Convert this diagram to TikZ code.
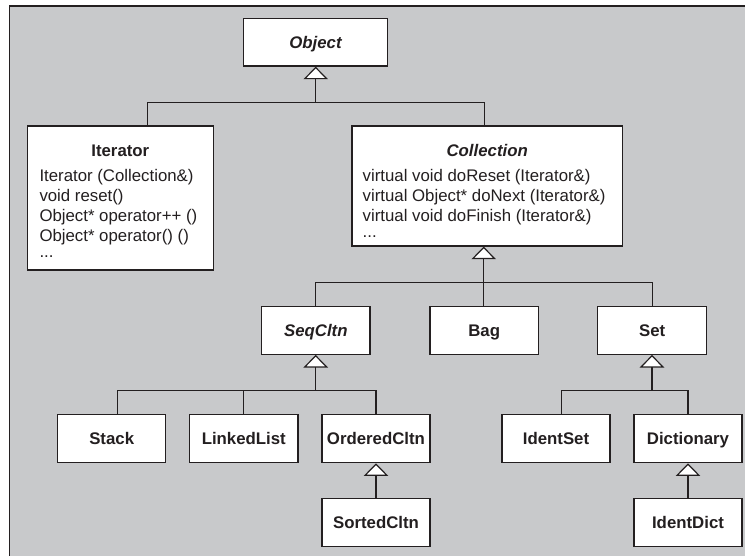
\documentclass[tikz,border=0pt]{standalone}
\usepackage{fontspec}
\setmainfont{Liberation Sans}
\usetikzlibrary{arrows.meta}
\definecolor{bg}{RGB}{200,201,203}
\definecolor{ink}{RGB}{35,31,32}
\begin{document}
\begin{tikzpicture}[x=1pt,y=1pt,
  cls/.style={draw=ink, line width=1.2pt, fill=white, inner sep=0pt, text=ink,
    font=\fontsize{16.8}{20}\selectfont\bfseries, text height=12pt, text depth=0pt},
  small/.style={cls, minimum width=108.3pt, minimum height=48pt},
  big/.style={draw=ink, line width=1.2pt, fill=white, inner sep=0pt},
  title/.style={font=\fontsize{16.8}{20}\selectfont\bfseries, text=ink, inner sep=0pt, anchor=base},
  member/.style={font=\fontsize{16.8}{20}\selectfont, text=ink, inner sep=0pt, anchor=base west},
  conn/.style={draw=ink, line width=1.2pt},
  inh/.style={conn, -{Triangle[width=24.4pt, length=12.6pt, fill=white]}}]
\useasboundingbox (0,0) rectangle (745,-556);
% background panel
\fill[bg] (9.3,-6) rectangle (760,-570);
\draw[ink, line width=1.2pt] (9.3,-570) -- (9.3,-6) -- (760,-6);

% classes
\node[cls, minimum width=144.4pt, minimum height=47.7pt] (obj) at (315.5,-42.2) {\itshape Object};
\node[big, minimum width=186pt, minimum height=144pt] (iter) at (120.3,-198) {};
\node[big, minimum width=270.3pt, minimum height=120pt] (coll) at (487.2,-186) {};
\node[title] (itert) at (iter.center |- 0,-156.5) {Iterator};
\node[title] (collt) at (coll.center |- 0,-156.5) {\itshape Collection};
\node[member] (iterm1) at (39.3,-181.7) {Iterator (Collection\&)};
\node[member] (iterm2) at (39.3,-201.5) {void reset()};
\node[member] (iterm3) at (39.3,-221.3) {Object* operator++ ()};
\node[member] (iterm4) at (39.3,-241.1) {Object* operator() ()};
\node[member] (iterm5) at (39.3,-257.5) {...};
\node[member] (collm1) at (362.5,-181.7) {virtual void doReset (Iterator\&)};
\node[member] (collm2) at (362.5,-201.5) {virtual Object* doNext (Iterator\&)};
\node[member] (collm3) at (362.5,-221.3) {virtual void doFinish (Iterator\&)};
\node[member] (collm4) at (362.5,-237.5) {...};

\node[small] (seq) at (315.8,-330.3) {\itshape SeqCltn};
\node[small] (bag) at (484.2,-330.3) {Bag};
\node[small, minimum width=109pt] (set) at (652.2,-330.3) {Set};
\node[small, minimum width=108pt] (stack) at (111.7,-438.7) {Stack};
\node[small] (linked) at (243.8,-438.7) {LinkedList};
\node[small, minimum width=108pt] (ordered) at (376,-438.7) {OrderedCltn};
\node[small, minimum width=108pt] (sorted) at (376,-522.7) {SortedCltn};
\node[small, minimum width=108pt] (identset) at (556,-438.7) {IdentSet};
\node[small, minimum width=108pt] (dict) at (688,-438.7) {Dictionary};
\node[small, minimum width=108pt] (identdict) at (688,-522.7) {IdentDict};

% junctions
\coordinate (j0) at (315.7,-102.3);
\coordinate (j1) at (483.7,-282.3);
\coordinate (j2) at (315.7,-390.3);
\coordinate (j3) at (652,-390.3);

% Object <- Iterator, Collection
\draw[conn] ([xshift=27.4pt]iter.north) |- ([xshift=-2.7pt]coll.north |- j0) -- ([xshift=-2.7pt]coll.north);
\draw[inh] (j0) -- (j0 |- obj.south);
% Collection <- SeqCltn, Bag, Set
\draw[conn] (seq.north) |- (set.north |- j1) -- (set.north);
\draw[conn] (j1) -- (j1 |- bag.north);
\draw[inh] (j1) -- (j1 |- coll.south);
% SeqCltn <- Stack, LinkedList, OrderedCltn
\draw[conn] ([xshift=5.6pt]stack.north) |- (ordered.north |- j2) -- (ordered.north);
\draw[conn] (linked.north |- j2) -- (linked.north);
\draw[inh] (j2) -- (j2 |- seq.south);
% Set <- IdentSet, Dictionary
\draw[conn] ([xshift=5.7pt]identset.north) |- (dict.north |- j3) -- (dict.north);
\draw[inh] (j3) -- (j3 |- set.south);
% OrderedCltn <- SortedCltn, Dictionary <- IdentDict
\draw[inh] (sorted.north) -- (ordered.south);
\draw[inh] (identdict.north) -- (dict.south);
\end{tikzpicture}
\end{document}
